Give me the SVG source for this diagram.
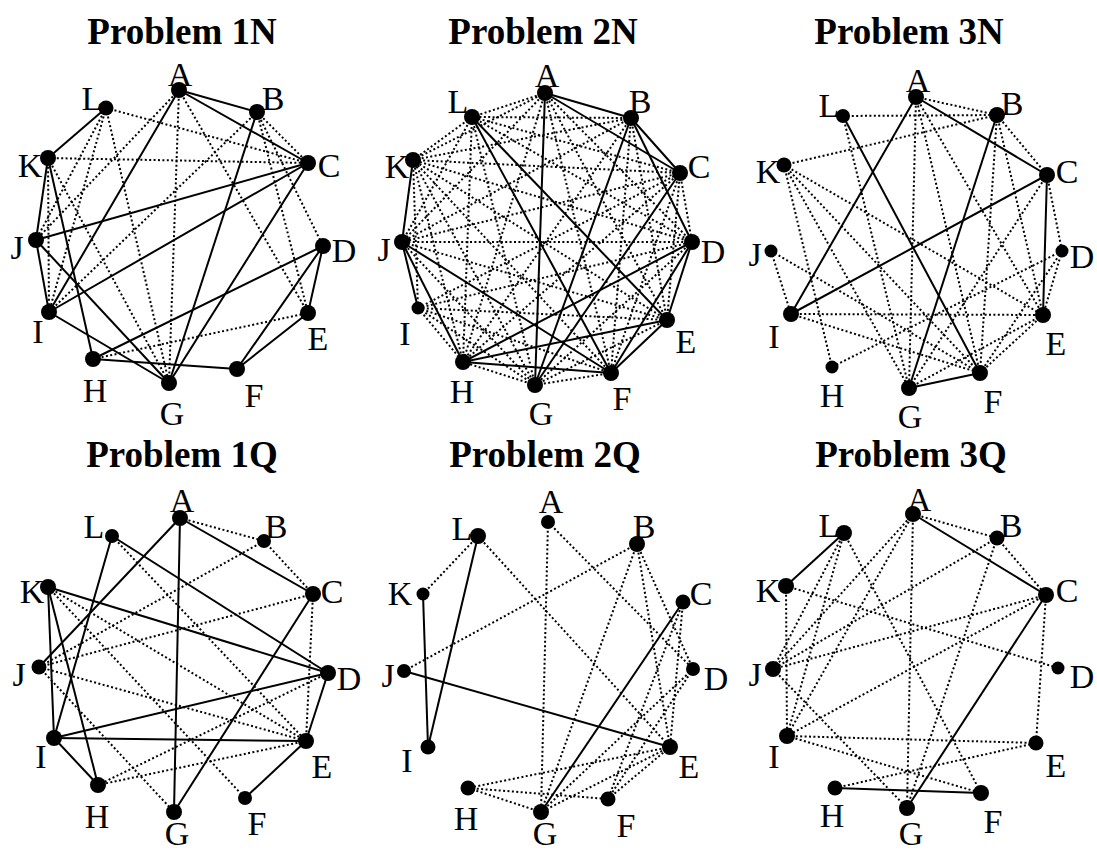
<svg xmlns="http://www.w3.org/2000/svg" width="1097" height="852" viewBox="0 0 1097 852">
<style>
.s{stroke:#000;stroke-width:2;fill:none}
.d{stroke:#000;stroke-width:2;stroke-dasharray:2 2.4;fill:none}
circle{fill:#000}
.t{font-family:"Liberation Serif","Times New Roman",serif;font-size:37px;font-weight:bold;text-anchor:middle}
.l{font-family:"Liberation Serif","Times New Roman",serif;font-size:34px;text-anchor:middle}
</style>
<rect width="1097" height="852" fill="#fff"/>

<!-- Problem 1N -->
<g id="p1N">
<text class="t" x="182" y="44">Problem 1N</text>
<g id="p1N-edges">
<line class="d" x1="106" y1="108" x2="308" y2="163"/>
<line class="d" x1="106" y1="108" x2="36" y2="240"/>
<line class="d" x1="106" y1="108" x2="49" y2="312"/>
<line class="d" x1="106" y1="108" x2="169" y2="383"/>
<line class="d" x1="48" y1="158" x2="308" y2="163"/>
<line class="d" x1="48" y1="158" x2="49" y2="312"/>
<line class="d" x1="48" y1="158" x2="169" y2="383"/>
<line class="d" x1="179" y1="90" x2="36" y2="240"/>
<line class="d" x1="179" y1="90" x2="169" y2="383"/>
<line class="d" x1="179" y1="90" x2="308" y2="313"/>
<line class="d" x1="257" y1="112" x2="308" y2="163"/>
<line class="d" x1="257" y1="112" x2="323" y2="246"/>
<line class="d" x1="257" y1="112" x2="308" y2="313"/>
<line class="d" x1="257" y1="112" x2="49" y2="312"/>
<line class="d" x1="93" y1="359" x2="308" y2="313"/>
<line class="s" x1="179" y1="90" x2="257" y2="112"/>
<line class="s" x1="179" y1="90" x2="308" y2="163"/>
<line class="s" x1="179" y1="90" x2="49" y2="312"/>
<line class="s" x1="257" y1="112" x2="169" y2="383"/>
<line class="s" x1="308" y1="163" x2="36" y2="240"/>
<line class="s" x1="308" y1="163" x2="49" y2="312"/>
<line class="s" x1="308" y1="163" x2="169" y2="383"/>
<line class="s" x1="106" y1="108" x2="48" y2="158"/>
<line class="s" x1="48" y1="158" x2="36" y2="240"/>
<line class="s" x1="48" y1="158" x2="93" y2="359"/>
<line class="s" x1="36" y1="240" x2="49" y2="312"/>
<line class="s" x1="36" y1="240" x2="169" y2="383"/>
<line class="s" x1="49" y1="312" x2="169" y2="383"/>
<line class="s" x1="93" y1="359" x2="323" y2="246"/>
<line class="s" x1="93" y1="359" x2="237" y2="369"/>
<line class="s" x1="323" y1="246" x2="308" y2="313"/>
<line class="s" x1="323" y1="246" x2="237" y2="369"/>
<line class="s" x1="308" y1="313" x2="237" y2="369"/>
</g>
<g id="p1N-A"><text class="l" x="180" y="86">A</text><circle cx="179" cy="90" r="8"/></g>
<g id="p1N-B"><text class="l" x="273" y="110">B</text><circle cx="257" cy="112" r="8"/></g>
<g id="p1N-C"><text class="l" x="329" y="177">C</text><circle cx="308" cy="163" r="8"/></g>
<g id="p1N-D"><text class="l" x="344" y="262">D</text><circle cx="323" cy="246" r="8"/></g>
<g id="p1N-E"><text class="l" x="318" y="350">E</text><circle cx="308" cy="313" r="8"/></g>
<g id="p1N-F"><text class="l" x="254" y="407">F</text><circle cx="237" cy="369" r="8"/></g>
<g id="p1N-G"><text class="l" x="172" y="425">G</text><circle cx="169" cy="383" r="8"/></g>
<g id="p1N-H"><text class="l" x="95" y="402">H</text><circle cx="93" cy="359" r="8"/></g>
<g id="p1N-I"><text class="l" x="38" y="343">I</text><circle cx="49" cy="312" r="8"/></g>
<g id="p1N-J"><text class="l" x="17" y="259">J</text><circle cx="36" cy="240" r="8"/></g>
<g id="p1N-K"><text class="l" x="30" y="177">K</text><circle cx="48" cy="158" r="8"/></g>
<g id="p1N-L"><text class="l" x="92" y="110">L</text><circle cx="106" cy="108" r="7.5"/></g>
</g>

<!-- Problem 2N -->
<g id="p2N">
<text class="t" x="543" y="44">Problem 2N</text>
<g id="p2N-edges">
<line class="d" x1="545" y1="93" x2="692" y2="242"/>
<line class="d" x1="545" y1="93" x2="667" y2="320"/>
<line class="d" x1="545" y1="93" x2="611" y2="373"/>
<line class="d" x1="545" y1="93" x2="463" y2="362"/>
<line class="d" x1="545" y1="93" x2="402" y2="242"/>
<line class="d" x1="545" y1="93" x2="413" y2="160"/>
<line class="d" x1="545" y1="93" x2="472" y2="117"/>
<line class="d" x1="631" y1="118" x2="667" y2="320"/>
<line class="d" x1="631" y1="118" x2="611" y2="373"/>
<line class="d" x1="631" y1="118" x2="463" y2="362"/>
<line class="d" x1="631" y1="118" x2="402" y2="242"/>
<line class="d" x1="631" y1="118" x2="413" y2="160"/>
<line class="d" x1="631" y1="118" x2="472" y2="117"/>
<line class="d" x1="680" y1="173" x2="692" y2="242"/>
<line class="d" x1="680" y1="173" x2="667" y2="320"/>
<line class="d" x1="680" y1="173" x2="611" y2="373"/>
<line class="d" x1="680" y1="173" x2="463" y2="362"/>
<line class="d" x1="680" y1="173" x2="402" y2="242"/>
<line class="d" x1="680" y1="173" x2="413" y2="160"/>
<line class="d" x1="680" y1="173" x2="472" y2="117"/>
<line class="d" x1="692" y1="242" x2="535" y2="385"/>
<line class="d" x1="692" y1="242" x2="402" y2="242"/>
<line class="d" x1="692" y1="242" x2="413" y2="160"/>
<line class="d" x1="692" y1="242" x2="472" y2="117"/>
<line class="d" x1="667" y1="320" x2="535" y2="385"/>
<line class="d" x1="667" y1="320" x2="402" y2="242"/>
<line class="d" x1="667" y1="320" x2="413" y2="160"/>
<line class="d" x1="611" y1="373" x2="535" y2="385"/>
<line class="d" x1="611" y1="373" x2="413" y2="160"/>
<line class="d" x1="535" y1="385" x2="463" y2="362"/>
<line class="d" x1="535" y1="385" x2="402" y2="242"/>
<line class="d" x1="535" y1="385" x2="413" y2="160"/>
<line class="d" x1="535" y1="385" x2="472" y2="117"/>
<line class="d" x1="463" y1="362" x2="413" y2="160"/>
<line class="d" x1="463" y1="362" x2="472" y2="117"/>
<line class="d" x1="402" y1="242" x2="472" y2="117"/>
<line class="d" x1="413" y1="160" x2="472" y2="117"/>
<line class="d" x1="418" y1="308" x2="680" y2="173"/>
<line class="d" x1="418" y1="308" x2="692" y2="242"/>
<line class="d" x1="418" y1="308" x2="667" y2="320"/>
<line class="d" x1="418" y1="308" x2="611" y2="373"/>
<line class="d" x1="418" y1="308" x2="535" y2="385"/>
<line class="d" x1="418" y1="308" x2="463" y2="362"/>
<line class="d" x1="418" y1="308" x2="413" y2="160"/>
<line class="s" x1="545" y1="93" x2="631" y2="118"/>
<line class="s" x1="545" y1="93" x2="680" y2="173"/>
<line class="s" x1="545" y1="93" x2="535" y2="385"/>
<line class="s" x1="631" y1="118" x2="680" y2="173"/>
<line class="s" x1="631" y1="118" x2="692" y2="242"/>
<line class="s" x1="631" y1="118" x2="535" y2="385"/>
<line class="s" x1="680" y1="173" x2="535" y2="385"/>
<line class="s" x1="472" y1="117" x2="611" y2="373"/>
<line class="s" x1="472" y1="117" x2="667" y2="320"/>
<line class="s" x1="413" y1="160" x2="402" y2="242"/>
<line class="s" x1="402" y1="242" x2="418" y2="308"/>
<line class="s" x1="402" y1="242" x2="463" y2="362"/>
<line class="s" x1="402" y1="242" x2="611" y2="373"/>
<line class="s" x1="463" y1="362" x2="692" y2="242"/>
<line class="s" x1="463" y1="362" x2="667" y2="320"/>
<line class="s" x1="463" y1="362" x2="611" y2="373"/>
<line class="s" x1="692" y1="242" x2="667" y2="320"/>
<line class="s" x1="692" y1="242" x2="611" y2="373"/>
<line class="s" x1="667" y1="320" x2="611" y2="373"/>
</g>
<g id="p2N-A"><text class="l" x="547" y="87">A</text><circle cx="545" cy="93" r="8"/></g>
<g id="p2N-B"><text class="l" x="640" y="113">B</text><circle cx="631" cy="118" r="8"/></g>
<g id="p2N-C"><text class="l" x="699" y="178">C</text><circle cx="680" cy="173" r="8"/></g>
<g id="p2N-D"><text class="l" x="713" y="263">D</text><circle cx="692" cy="242" r="8"/></g>
<g id="p2N-E"><text class="l" x="686" y="353">E</text><circle cx="667" cy="320" r="8"/></g>
<g id="p2N-F"><text class="l" x="622" y="410">F</text><circle cx="611" cy="373" r="8"/></g>
<g id="p2N-G"><text class="l" x="541" y="425">G</text><circle cx="535" cy="385" r="8"/></g>
<g id="p2N-H"><text class="l" x="462" y="403">H</text><circle cx="463" cy="362" r="8"/></g>
<g id="p2N-I"><text class="l" x="405" y="345">I</text><circle cx="418" cy="308" r="6.5"/></g>
<g id="p2N-J"><text class="l" x="384" y="261">J</text><circle cx="402" cy="242" r="8"/></g>
<g id="p2N-K"><text class="l" x="397" y="178">K</text><circle cx="413" cy="160" r="8"/></g>
<g id="p2N-L"><text class="l" x="458" y="113">L</text><circle cx="472" cy="117" r="8"/></g>
</g>

<!-- Problem 3N -->
<g id="p3N">
<text class="t" x="909" y="44">Problem 3N</text>
<g id="p3N-edges">
<line class="d" x1="916" y1="97" x2="997" y2="115"/>
<line class="d" x1="843" y1="116" x2="997" y2="115"/>
<line class="d" x1="784" y1="165" x2="997" y2="115"/>
<line class="d" x1="997" y1="115" x2="1047" y2="175"/>
<line class="d" x1="997" y1="115" x2="1043" y2="315"/>
<line class="d" x1="997" y1="115" x2="980" y2="373"/>
<line class="d" x1="916" y1="97" x2="909" y2="388"/>
<line class="d" x1="916" y1="97" x2="1043" y2="315"/>
<line class="d" x1="916" y1="97" x2="980" y2="373"/>
<line class="d" x1="1047" y1="175" x2="1062" y2="251"/>
<line class="d" x1="1047" y1="175" x2="909" y2="388"/>
<line class="d" x1="1062" y1="251" x2="1043" y2="315"/>
<line class="d" x1="1062" y1="251" x2="832" y2="367"/>
<line class="d" x1="1062" y1="251" x2="980" y2="373"/>
<line class="d" x1="784" y1="165" x2="1043" y2="315"/>
<line class="d" x1="784" y1="165" x2="980" y2="373"/>
<line class="d" x1="784" y1="165" x2="909" y2="388"/>
<line class="d" x1="784" y1="165" x2="832" y2="367"/>
<line class="d" x1="843" y1="116" x2="909" y2="388"/>
<line class="d" x1="771" y1="251" x2="791" y2="314"/>
<line class="d" x1="771" y1="251" x2="980" y2="373"/>
<line class="d" x1="791" y1="314" x2="1043" y2="315"/>
<line class="d" x1="791" y1="314" x2="980" y2="373"/>
<line class="d" x1="909" y1="388" x2="1043" y2="315"/>
<line class="d" x1="980" y1="373" x2="1043" y2="315"/>
<line class="s" x1="916" y1="97" x2="1047" y2="175"/>
<line class="s" x1="916" y1="97" x2="791" y2="314"/>
<line class="s" x1="1047" y1="175" x2="791" y2="314"/>
<line class="s" x1="1047" y1="175" x2="1043" y2="315"/>
<line class="s" x1="997" y1="115" x2="909" y2="388"/>
<line class="s" x1="843" y1="116" x2="980" y2="373"/>
<line class="s" x1="909" y1="388" x2="980" y2="373"/>
</g>
<g id="p3N-A"><text class="l" x="918" y="92">A</text><circle cx="916" cy="97" r="8"/></g>
<g id="p3N-B"><text class="l" x="1012" y="115">B</text><circle cx="997" cy="115" r="8"/></g>
<g id="p3N-C"><text class="l" x="1067" y="183">C</text><circle cx="1047" cy="175" r="8"/></g>
<g id="p3N-D"><text class="l" x="1082" y="268">D</text><circle cx="1062" cy="251" r="6.5"/></g>
<g id="p3N-E"><text class="l" x="1056" y="355">E</text><circle cx="1043" cy="315" r="8"/></g>
<g id="p3N-F"><text class="l" x="993" y="413">F</text><circle cx="980" cy="373" r="8"/></g>
<g id="p3N-G"><text class="l" x="910" y="428">G</text><circle cx="909" cy="388" r="8"/></g>
<g id="p3N-H"><text class="l" x="832" y="407">H</text><circle cx="832" cy="367" r="6.5"/></g>
<g id="p3N-I"><text class="l" x="774" y="348">I</text><circle cx="791" cy="314" r="8"/></g>
<g id="p3N-J"><text class="l" x="755" y="266">J</text><circle cx="771" cy="251" r="6.5"/></g>
<g id="p3N-K"><text class="l" x="768" y="183">K</text><circle cx="784" cy="165" r="7.5"/></g>
<g id="p3N-L"><text class="l" x="829" y="117">L</text><circle cx="843" cy="116" r="7"/></g>
</g>

<!-- Problem 1Q -->
<g id="p1Q">
<text class="t" x="182" y="467">Problem 1Q</text>
<g id="p1Q-edges">
<line class="d" x1="180" y1="518" x2="264" y2="541"/>
<line class="d" x1="264" y1="541" x2="313" y2="594"/>
<line class="d" x1="264" y1="541" x2="39" y2="667"/>
<line class="d" x1="313" y1="594" x2="39" y2="667"/>
<line class="d" x1="313" y1="594" x2="306" y2="741"/>
<line class="d" x1="48" y1="587" x2="306" y2="741"/>
<line class="d" x1="48" y1="587" x2="245" y2="798"/>
<line class="d" x1="112" y1="536" x2="306" y2="741"/>
<line class="d" x1="39" y1="667" x2="306" y2="741"/>
<line class="d" x1="39" y1="667" x2="174" y2="812"/>
<line class="d" x1="328" y1="673" x2="98" y2="785"/>
<line class="d" x1="306" y1="741" x2="98" y2="785"/>
<line class="s" x1="180" y1="518" x2="313" y2="594"/>
<line class="s" x1="180" y1="518" x2="39" y2="667"/>
<line class="s" x1="180" y1="518" x2="174" y2="812"/>
<line class="s" x1="112" y1="536" x2="54" y2="738"/>
<line class="s" x1="112" y1="536" x2="328" y2="673"/>
<line class="s" x1="48" y1="587" x2="328" y2="673"/>
<line class="s" x1="48" y1="587" x2="54" y2="738"/>
<line class="s" x1="48" y1="587" x2="98" y2="785"/>
<line class="s" x1="54" y1="738" x2="328" y2="673"/>
<line class="s" x1="54" y1="738" x2="306" y2="741"/>
<line class="s" x1="54" y1="738" x2="98" y2="785"/>
<line class="s" x1="313" y1="594" x2="174" y2="812"/>
<line class="s" x1="328" y1="673" x2="306" y2="741"/>
<line class="s" x1="306" y1="741" x2="245" y2="798"/>
</g>
<g id="p1Q-A"><text class="l" x="182" y="512">A</text><circle cx="180" cy="518" r="8"/></g>
<g id="p1Q-B"><text class="l" x="276" y="538">B</text><circle cx="264" cy="541" r="7"/></g>
<g id="p1Q-C"><text class="l" x="332" y="603">C</text><circle cx="313" cy="594" r="8"/></g>
<g id="p1Q-D"><text class="l" x="349" y="690">D</text><circle cx="328" cy="673" r="8"/></g>
<g id="p1Q-E"><text class="l" x="322" y="778">E</text><circle cx="306" cy="741" r="8"/></g>
<g id="p1Q-F"><text class="l" x="257" y="835">F</text><circle cx="245" cy="798" r="7"/></g>
<g id="p1Q-G"><text class="l" x="177" y="845">G</text><circle cx="174" cy="812" r="8"/></g>
<g id="p1Q-H"><text class="l" x="97" y="828">H</text><circle cx="98" cy="785" r="8"/></g>
<g id="p1Q-I"><text class="l" x="41" y="768">I</text><circle cx="54" cy="738" r="8"/></g>
<g id="p1Q-J"><text class="l" x="19" y="686">J</text><circle cx="39" cy="667" r="7.5"/></g>
<g id="p1Q-K"><text class="l" x="32" y="603">K</text><circle cx="48" cy="587" r="8"/></g>
<g id="p1Q-L"><text class="l" x="94" y="538">L</text><circle cx="112" cy="536" r="7"/></g>
</g>

<!-- Problem 2Q -->
<g id="p2Q">
<text class="t" x="545" y="467">Problem 2Q</text>
<g id="p2Q-edges">
<line class="d" x1="478" y1="536" x2="423" y2="594"/>
<line class="d" x1="478" y1="536" x2="670" y2="747"/>
<line class="d" x1="548" y1="522" x2="541" y2="812"/>
<line class="d" x1="548" y1="522" x2="693" y2="669"/>
<line class="d" x1="637" y1="544" x2="404" y2="671"/>
<line class="d" x1="637" y1="544" x2="541" y2="812"/>
<line class="d" x1="637" y1="544" x2="693" y2="669"/>
<line class="d" x1="637" y1="544" x2="670" y2="747"/>
<line class="d" x1="683" y1="602" x2="670" y2="747"/>
<line class="d" x1="683" y1="602" x2="608" y2="799"/>
<line class="d" x1="693" y1="669" x2="608" y2="799"/>
<line class="d" x1="693" y1="669" x2="541" y2="812"/>
<line class="d" x1="670" y1="747" x2="468" y2="788"/>
<line class="d" x1="670" y1="747" x2="541" y2="812"/>
<line class="d" x1="670" y1="747" x2="608" y2="799"/>
<line class="d" x1="468" y1="788" x2="541" y2="812"/>
<line class="d" x1="468" y1="788" x2="608" y2="799"/>
<line class="s" x1="478" y1="536" x2="428" y2="747"/>
<line class="s" x1="423" y1="594" x2="428" y2="747"/>
<line class="s" x1="404" y1="671" x2="670" y2="747"/>
<line class="s" x1="683" y1="602" x2="541" y2="812"/>
</g>
<g id="p2Q-A"><text class="l" x="551" y="513">A</text><circle cx="548" cy="522" r="7"/></g>
<g id="p2Q-B"><text class="l" x="644" y="538">B</text><circle cx="637" cy="544" r="8"/></g>
<g id="p2Q-C"><text class="l" x="701" y="605">C</text><circle cx="683" cy="602" r="7.5"/></g>
<g id="p2Q-D"><text class="l" x="716" y="690">D</text><circle cx="693" cy="669" r="7"/></g>
<g id="p2Q-E"><text class="l" x="689" y="778">E</text><circle cx="670" cy="747" r="8"/></g>
<g id="p2Q-F"><text class="l" x="626" y="837">F</text><circle cx="608" cy="799" r="7.5"/></g>
<g id="p2Q-G"><text class="l" x="545" y="845">G</text><circle cx="541" cy="812" r="8"/></g>
<g id="p2Q-H"><text class="l" x="466" y="830">H</text><circle cx="468" cy="788" r="7.5"/></g>
<g id="p2Q-I"><text class="l" x="407" y="772">I</text><circle cx="428" cy="747" r="7.5"/></g>
<g id="p2Q-J"><text class="l" x="388" y="687">J</text><circle cx="404" cy="671" r="7"/></g>
<g id="p2Q-K"><text class="l" x="400" y="605">K</text><circle cx="423" cy="594" r="6.5"/></g>
<g id="p2Q-L"><text class="l" x="462" y="540">L</text><circle cx="478" cy="536" r="8"/></g>
</g>

<!-- Problem 3Q -->
<g id="p3Q">
<text class="t" x="911" y="467">Problem 3Q</text>
<g id="p3Q-edges">
<line class="d" x1="913" y1="514" x2="997" y2="538"/>
<line class="d" x1="997" y1="538" x2="1046" y2="595"/>
<line class="d" x1="913" y1="514" x2="773" y2="669"/>
<line class="d" x1="913" y1="514" x2="787" y2="736"/>
<line class="d" x1="913" y1="514" x2="907" y2="808"/>
<line class="d" x1="997" y1="538" x2="773" y2="669"/>
<line class="d" x1="997" y1="538" x2="907" y2="808"/>
<line class="d" x1="1046" y1="595" x2="773" y2="669"/>
<line class="d" x1="1046" y1="595" x2="787" y2="736"/>
<line class="d" x1="1046" y1="595" x2="1036" y2="743"/>
<line class="d" x1="786" y1="586" x2="1058" y2="668"/>
<line class="d" x1="786" y1="586" x2="787" y2="736"/>
<line class="d" x1="844" y1="533" x2="773" y2="669"/>
<line class="d" x1="844" y1="533" x2="787" y2="736"/>
<line class="d" x1="844" y1="533" x2="981" y2="793"/>
<line class="d" x1="773" y1="669" x2="907" y2="808"/>
<line class="d" x1="787" y1="736" x2="1036" y2="743"/>
<line class="d" x1="787" y1="736" x2="981" y2="793"/>
<line class="d" x1="835" y1="788" x2="1036" y2="743"/>
<line class="s" x1="844" y1="533" x2="786" y2="586"/>
<line class="s" x1="913" y1="514" x2="1046" y2="595"/>
<line class="s" x1="1046" y1="595" x2="907" y2="808"/>
<line class="s" x1="835" y1="788" x2="981" y2="793"/>
</g>
<g id="p3Q-A"><text class="l" x="919" y="511">A</text><circle cx="913" cy="514" r="8"/></g>
<g id="p3Q-B"><text class="l" x="1011" y="537">B</text><circle cx="997" cy="538" r="7.5"/></g>
<g id="p3Q-C"><text class="l" x="1067" y="602">C</text><circle cx="1046" cy="595" r="8"/></g>
<g id="p3Q-D"><text class="l" x="1082" y="688">D</text><circle cx="1058" cy="668" r="6.5"/></g>
<g id="p3Q-E"><text class="l" x="1056" y="777">E</text><circle cx="1036" cy="743" r="7.5"/></g>
<g id="p3Q-F"><text class="l" x="993" y="833">F</text><circle cx="981" cy="793" r="8"/></g>
<g id="p3Q-G"><text class="l" x="911" y="845">G</text><circle cx="907" cy="808" r="8"/></g>
<g id="p3Q-H"><text class="l" x="832" y="827">H</text><circle cx="835" cy="788" r="7.5"/></g>
<g id="p3Q-I"><text class="l" x="774" y="768">I</text><circle cx="787" cy="736" r="8"/></g>
<g id="p3Q-J"><text class="l" x="755" y="686">J</text><circle cx="773" cy="669" r="8"/></g>
<g id="p3Q-K"><text class="l" x="768" y="602">K</text><circle cx="786" cy="586" r="8"/></g>
<g id="p3Q-L"><text class="l" x="829" y="537">L</text><circle cx="844" cy="533" r="8"/></g>
</g>
</svg>
